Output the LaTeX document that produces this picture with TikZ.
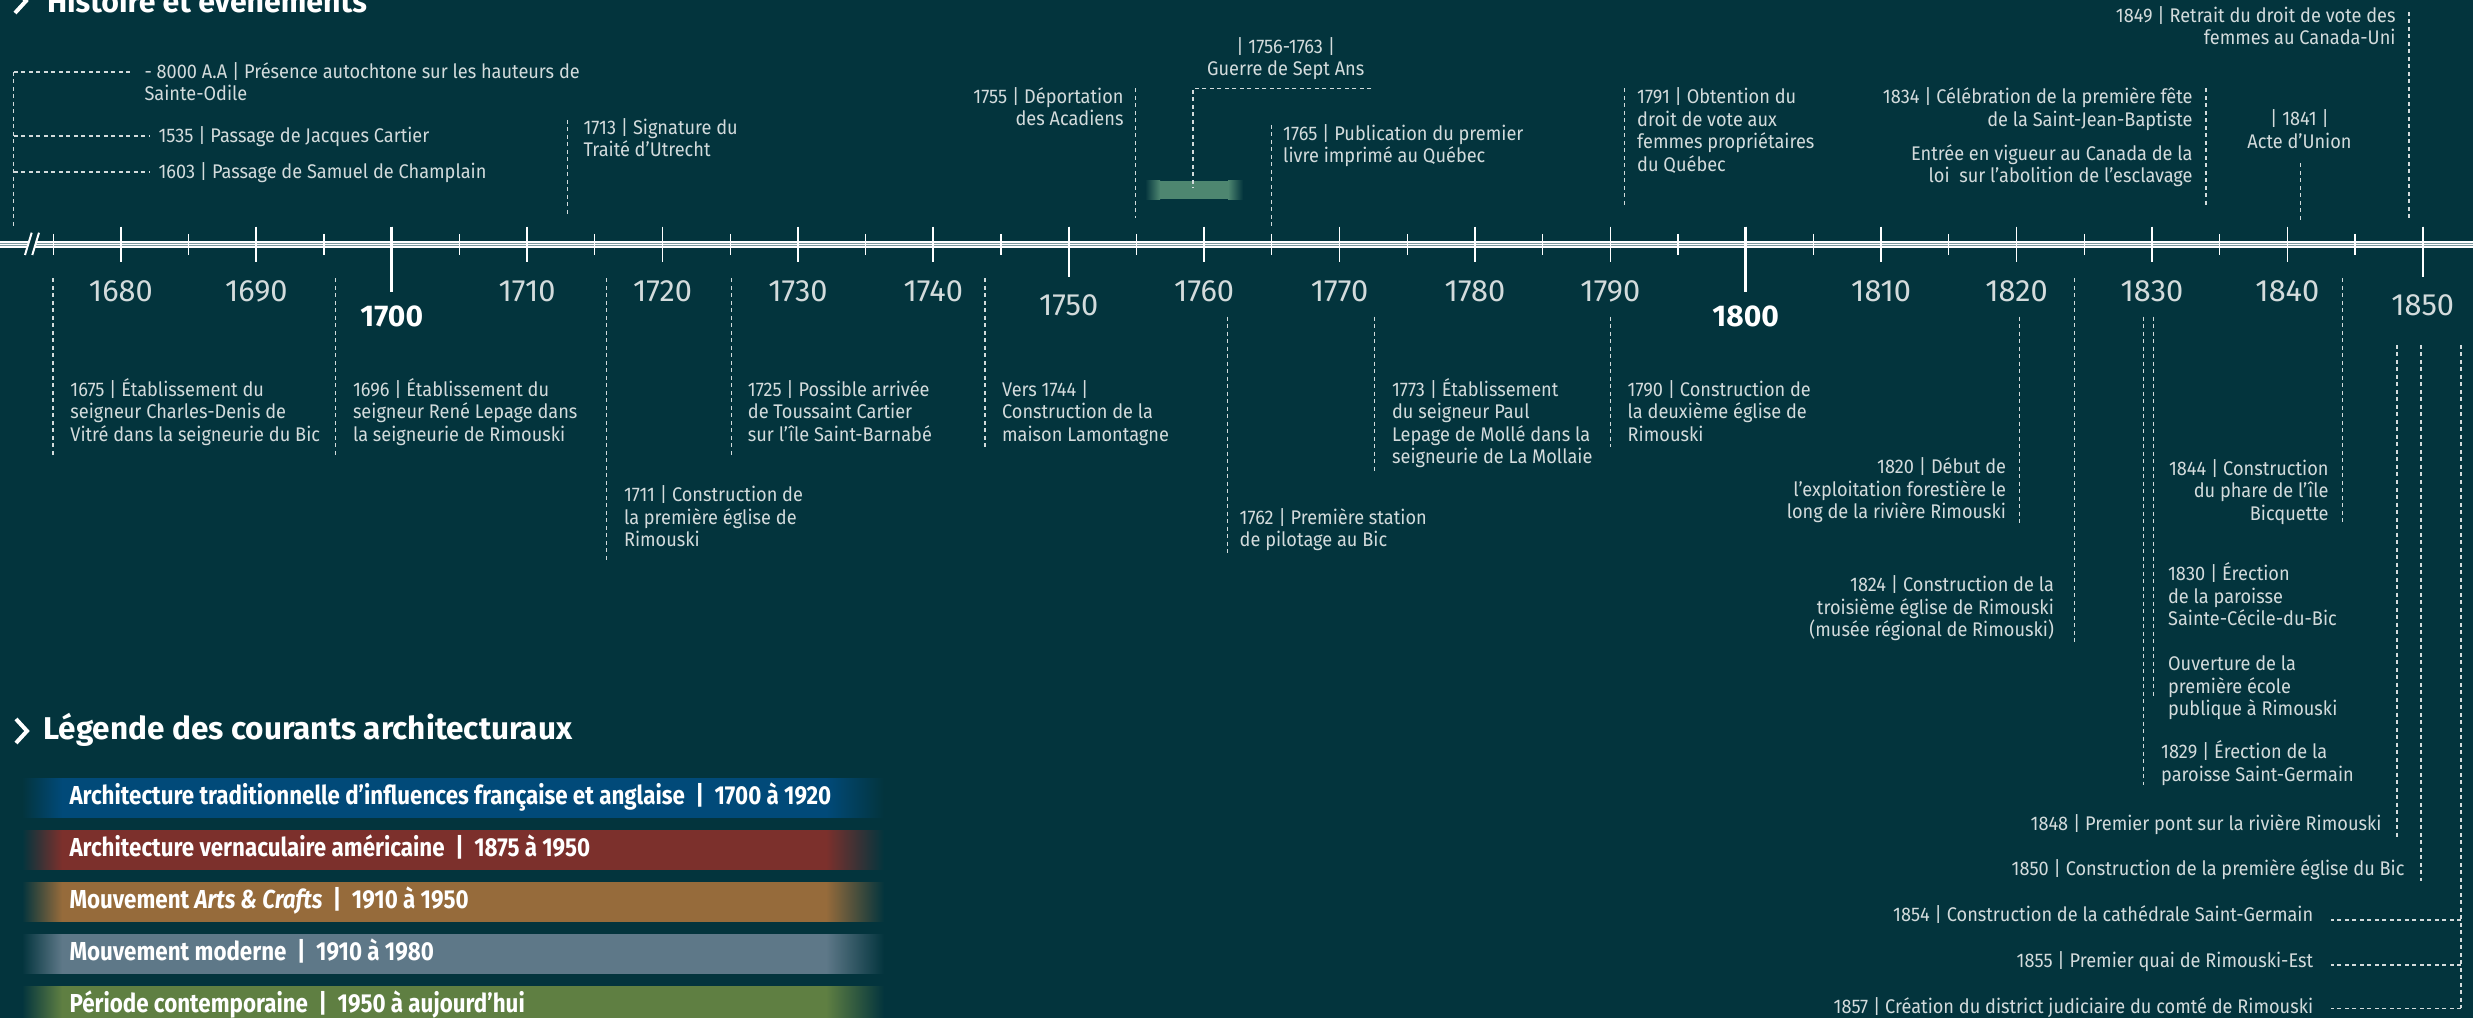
\documentclass[tikz,border=0pt]{standalone}
\usepackage{fontspec}
\setmainfont{Fira Sans}
\newfontfamily\evtfont{Fira Sans}[FakeStretch=0.92]
\newfontfamily\legendfont{Fira Sans}[FakeStretch=0.86]
\usepackage{tikz}
\usetikzlibrary{calc}
\definecolor{bgteal}{HTML}{03343D}
\definecolor{txtgrey}{HTML}{D3DBDC}
\definecolor{axisgrey}{HTML}{7C9A9F}
\definecolor{warbar}{HTML}{4E8670}
\definecolor{archblue}{HTML}{014A79}
\definecolor{archred}{HTML}{7C302C}
\definecolor{archbrown}{HTML}{966B3B}
\definecolor{archslate}{HTML}{5E7888}
\definecolor{archgreen}{HTML}{5F7F42}
\tikzset{
  evt/.style={text=txtgrey,font=\fontsize{7.9}{9}\evtfont,inner sep=0pt,align=left,anchor=base west},
  evtr/.style={evt,align=right,anchor=base east},
  evtc/.style={evt,align=center,anchor=base},
  guide/.style={txtgrey,line width=0.5pt,dash pattern=on 1.6pt off 1.4pt},
  yearlbl/.style={text=txtgrey,font=\fontsize{12.3}{12}\selectfont,inner sep=0pt},
  centlbl/.style={text=white,font=\fontsize{12}{12}\selectfont\bfseries,inner sep=0pt},
  headtxt/.style={text=white,font=\fontsize{12.4}{12}\selectfont\bfseries,inner sep=0pt,anchor=base west},
  legtxt/.style={text=white,font=\fontsize{10.4}{10}\legendfont\bfseries,inner sep=0pt,anchor=base west},
  chevron/.style={white,line width=1.6pt,miter limit=10},
}
\begin{document}
\begin{tikzpicture}[x=0.4pt,y=-0.4pt]
\fill[bgteal] (0,0) rectangle (2473,1018);
\useasboundingbox (0,0) rectangle (2473,1018);

% headers
\draw[chevron] (15,-11) -- (26,1) -- (15,13);
\node[headtxt,font=\fontsize{12.1}{12}\selectfont\bfseries] (hhist) at (46.5,12.5) {Histoire et événements};
\draw[chevron] (16,719) -- (27,731) -- (16,743);
\node[headtxt,font=\fontsize{12.6}{12}\selectfont\bfseries] (hleg) at (43,739.5) {Légende des courants architecturaux};

% axis
\fill[axisgrey] (0,241.5) rectangle (2473,247.5);
\foreach \ay / \aw in {241.8/0.7, 244.5/0.35, 247.2/0.7}
  \draw[white,line width=\aw pt] (0,\ay) -- (2473,\ay);
\fill[bgteal] (25,255) -- (31.7,232.7) -- (39,232.7) -- (32.3,255) -- cycle;
\draw[white,line width=0.8pt] (25,255) -- (31.7,232.7);
\draw[white,line width=0.8pt] (32.3,255) -- (39,232.7);

% ticks and years
\foreach \yr in {1675,1685,...,1845}
  {\pgfmathsetmacro{\tx}{391.7+13.54*(\yr-1700)}
   \draw[white,line width=0.5pt] (\tx,234) -- (\tx,255);}
\foreach \yr in {1680,1690,...,1850}
  {\pgfmathsetmacro{\tx}{391.7+13.54*(\yr-1700)}
   \draw[white,line width=0.65pt] (\tx,226.7) -- (\tx,261.7);}
\foreach \yr / \tb / \tw in {1750/276.7/0.8, 1850/276.7/0.8, 1700/291.7/1.4, 1800/291.7/1.4}
  {\pgfmathsetmacro{\tx}{391.7+13.54*(\yr-1700)}
   \draw[white,line width=\tw pt] (\tx,226.7) -- (\tx,\tb);}
\foreach \yr in {1680,1690,1710,1720,1730,1740,1760,1770,1780,1790,1810,1820,1830,1840}
  {\pgfmathsetmacro{\tx}{391.7+13.54*(\yr-1700)}
   \node[yearlbl] (y\yr) at (\tx,291) {\yr};}
\node[yearlbl] (y1750) at (1068.7,305) {1750};
\node[yearlbl] (y1850) at (2422.7,305) {1850};
\node[centlbl] (y1700) at (391.7,316.7) {1700};
\node[centlbl] (y1800) at (1745.7,316.7) {1800};

% events above the axis (node y = baseline of the last line)
\coordinate (prehA) at (13.8,72);
\coordinate (prehB) at (13.8,136);
\coordinate (prehC) at (13.8,172);
\coordinate (prehD) at (13.8,227);
\coordinate (prehAe) at (130,72);
\coordinate (prehBe) at (150,136);
\coordinate (prehCe) at (150,172);
\draw[guide] (prehA) -- (prehD);
\draw[guide] (prehA) -- (prehAe);
\draw[guide] (prehB) -- (prehBe);
\draw[guide] (prehC) -- (prehCe);
\node[evt] (ev8000) at (144,101) {- 8000 A.A | Présence autochtone sur les hauteurs de\\Sainte-Odile};
\node[evt] (ev1535) at (158,142.8) {1535 | Passage de Jacques Cartier};
\node[evt] (ev1603) at (158,178.8) {1603 | Passage de Samuel de Champlain};

\coordinate (g1713a) at (567.4,120);
\coordinate (g1713b) at (567.4,217);
\draw[guide] (g1713a) -- (g1713b);
\node[evt] (ev1713) at (583,157) {1713 | Signature du\\Traité d’Utrecht};

\coordinate (g1755a) at (1135.8,88.3);
\coordinate (g1755b) at (1135.8,218);
\draw[guide] (g1755a) -- (g1755b);
\node[evtr] (ev1755) at (1124,126) {1755 | Déportation\\des Acadiens};

\shade[left color=bgteal,right color=warbar] (1145,181) rectangle (1160,199.3);
\fill[warbar] (1160,181) rectangle (1228,199.3);
\shade[left color=warbar,right color=bgteal] (1228,181) rectangle (1243,199.3);
\coordinate (gwarR) at (1371.4,88.3);
\coordinate (gwarC) at (1193.1,88.3);
\coordinate (gwarB) at (1193.1,188.3);
\draw[guide] (gwarR) -- (gwarC) -- (gwarB);
\node[evtc] (evwar) at (1285.7,76) {| 1756-1763 |\\Guerre de Sept Ans};

\coordinate (g1765a) at (1271.6,125);
\coordinate (g1765b) at (1271.6,226);
\draw[guide] (g1765a) -- (g1765b);
\node[evt] (ev1765) at (1282.7,163) {1765 | Publication du premier\\livre imprimé au Québec};

\coordinate (g1791a) at (1624.5,88.3);
\coordinate (g1791b) at (1624.5,206.7);
\draw[guide] (g1791a) -- (g1791b);
\node[evt] (ev1791) at (1636.7,171.5) {1791 | Obtention du\\droit de vote aux\\femmes propriétaires\\du Québec};

\coordinate (g1834a) at (2206,88.3);
\coordinate (g1834b) at (2206,206.7);
\draw[guide] (g1834a) -- (g1834b);
\node[evtr] (ev1834) at (2193,126.5) {1834 | Célébration de la première fête\\de la Saint-Jean-Baptiste};
\node[evtr] (ev1834b) at (2193,182.8) {Entrée en vigueur au Canada de la\\loi~ sur l’abolition de l’esclavage};

\coordinate (g1841a) at (2300.6,163.3);
\coordinate (g1841b) at (2300.6,222);
\draw[guide] (g1841a) -- (g1841b);
\node[evtc] (ev1841) at (2299.5,148.5) {| 1841 |\\Acte d’Union};

\coordinate (g1849a) at (2409,12);
\coordinate (g1849b) at (2409,218);
\draw[guide] (g1849a) -- (g1849b);
\node[evtr] (ev1849) at (2396,45) {1849 | Retrait du droit de vote des\\femmes au Canada-Uni};

% events below the axis
\coordinate (g1675a) at (52.9,278.3);
\coordinate (g1675b) at (52.9,458.3);
\draw[guide] (g1675a) -- (g1675b);
\node[evt] (ev1675) at (69.9,441.3) {1675 | Établissement du\\seigneur Charles-Denis de\\Vitré dans la seigneurie du Bic};

\coordinate (g1696a) at (335.6,278.3);
\coordinate (g1696b) at (335.6,458.3);
\draw[guide] (g1696a) -- (g1696b);
\node[evt] (ev1696) at (352.5,441.3) {1696 | Établissement du\\seigneur René Lepage dans\\la seigneurie de Rimouski};

\coordinate (g1711a) at (606.6,278.3);
\coordinate (g1711b) at (606.6,560);
\draw[guide] (g1711a) -- (g1711b);
\node[evt] (ev1711) at (623.5,546.8) {1711 | Construction de\\la première église de\\Rimouski};

\coordinate (g1725a) at (731.5,278.3);
\coordinate (g1725b) at (731.5,458.3);
\draw[guide] (g1725a) -- (g1725b);
\node[evt] (ev1725) at (747.4,441.3) {1725 | Possible arrivée\\de Toussaint Cartier\\sur l’île Saint-Barnabé};

\coordinate (g1744a) at (985,278.3);
\coordinate (g1744b) at (985,446.7);
\draw[guide] (g1744a) -- (g1744b);
\node[evt] (ev1744) at (1001.6,441.3) {Vers 1744 |\\Construction de la\\maison Lamontagne};

\coordinate (g1762a) at (1227.6,316.7);
\coordinate (g1762b) at (1227.6,553.3);
\draw[guide] (g1762a) -- (g1762b);
\node[evt] (ev1762) at (1239.2,547) {1762 | Première station\\de pilotage au Bic};

\coordinate (g1773a) at (1374.7,316.7);
\coordinate (g1773b) at (1374.7,471.7);
\draw[guide] (g1773a) -- (g1773b);
\node[evt] (ev1773) at (1391.6,464) {1773 | Établissement\\du seigneur Paul\\Lepage de Mollé dans la\\seigneurie de La Mollaie};

\coordinate (g1790a) at (1610.3,316.7);
\coordinate (g1790b) at (1610.3,446.7);
\draw[guide] (g1790a) -- (g1790b);
\node[evt] (ev1790) at (1627.2,441.3) {1790 | Construction de\\la deuxième église de\\Rimouski};

\coordinate (g1820a) at (2019.3,316.7);
\coordinate (g1820b) at (2019.3,526.7);
\draw[guide] (g1820a) -- (g1820b);
\node[evtr] (ev1820) at (2006.6,519) {1820 | Début de\\l’exploitation forestière le\\long de la rivière Rimouski};

\coordinate (g1824a) at (2074.6,278.3);
\coordinate (g1824b) at (2074.6,641.7);
\draw[guide] (g1824a) -- (g1824b);
\node[evtr] (ev1824) at (2054.4,636.8) {1824 | Construction de la\\troisième église de Rimouski\\(musée régional de Rimouski)};

\coordinate (g1829a) at (2143.7,316.7);
\coordinate (g1829b) at (2143.7,785);
\draw[guide] (g1829a) -- (g1829b);
\node[evt] (ev1829) at (2160.7,781) {1829 | Érection de la\\paroisse Saint-Germain};

\coordinate (g1830a) at (2153.2,316.7);
\coordinate (g1830b) at (2153.2,696.7);
\draw[guide] (g1830a) -- (g1830b);
\node[evt] (ev1830) at (2167.6,625.8) {1830 | Érection\\de la paroisse\\Sainte-Cécile-du-Bic};
\node[evt] (ev1830b) at (2167.6,715.8) {Ouverture de la\\première école\\publique à Rimouski};

\coordinate (g1844a) at (2342.4,278.3);
\coordinate (g1844b) at (2342.4,523.3);
\draw[guide] (g1844a) -- (g1844b);
\node[evtr] (ev1844) at (2329,520.3) {1844 | Construction\\du phare de l’île\\Bicquette};

\coordinate (g1848a) at (2397,345);
\coordinate (g1848b) at (2397,838.3);
\draw[guide] (g1848a) -- (g1848b);
\node[evtr] (ev1848) at (2382,830.8) {1848 | Premier pont sur la rivière Rimouski};

\coordinate (g1850a) at (2421,345);
\coordinate (g1850b) at (2421,880.7);
\draw[guide] (g1850a) -- (g1850b);
\node[evtr] (ev1850) at (2405,875.3) {1850 | Construction de la première église du Bic};

\coordinate (g185xa) at (2461,345);
\coordinate (g1854) at (2461,920);
\coordinate (g1855) at (2461,965);
\coordinate (g1857) at (2461,1008.3);
\coordinate (g1854e) at (2330.7,920);
\coordinate (g1855e) at (2330.7,965);
\coordinate (g1857e) at (2330.7,1008.3);
\draw[guide] (g185xa) -- (g1857);
\draw[guide] (g1854) -- (g1854e);
\draw[guide] (g1855) -- (g1855e);
\draw[guide] (g1857) -- (g1857e);
\node[evtr] (ev1854) at (2313.7,921.8) {1854 | Construction de la cathédrale Saint-Germain};
\node[evtr] (ev1855) at (2313.7,967.8) {1855 | Premier quai de Rimouski-Est};
\node[evtr] (ev1857) at (2313.7,1013.3) {1857 | Création du district judiciaire du comté de Rimouski};

% legend bars
\foreach \k / \bcol / \btxt in {0/archblue/{Architecture traditionnelle d’influences française et anglaise \ | \ 1700 à 1920},
    1/archred/{Architecture vernaculaire américaine \ | \ 1875 à 1950},
    2/archbrown/{Mouvement \textit{Arts \& Crafts} \ | \ 1910 à 1950},
    3/archslate/{Mouvement moderne \ | \ 1910 à 1980},
    4/archgreen/{Période contemporaine \ | \ 1950 à aujourd’hui}}
  {\pgfmathsetmacro{\bt}{778+52*\k}
   \pgfmathsetmacro{\bb}{\bt+39.5}
   \shade[left color=bgteal,right color=\bcol] (22,\bt) rectangle (62,\bb);
   \fill[\bcol] (62,\bt) rectangle (826,\bb);
   \shade[left color=\bcol,right color=bgteal] (826,\bt) rectangle (884,\bb);
   \node[legtxt] (leg\k) at (69,\bt+26.5) {\btxt};}
\end{tikzpicture}
\end{document}
